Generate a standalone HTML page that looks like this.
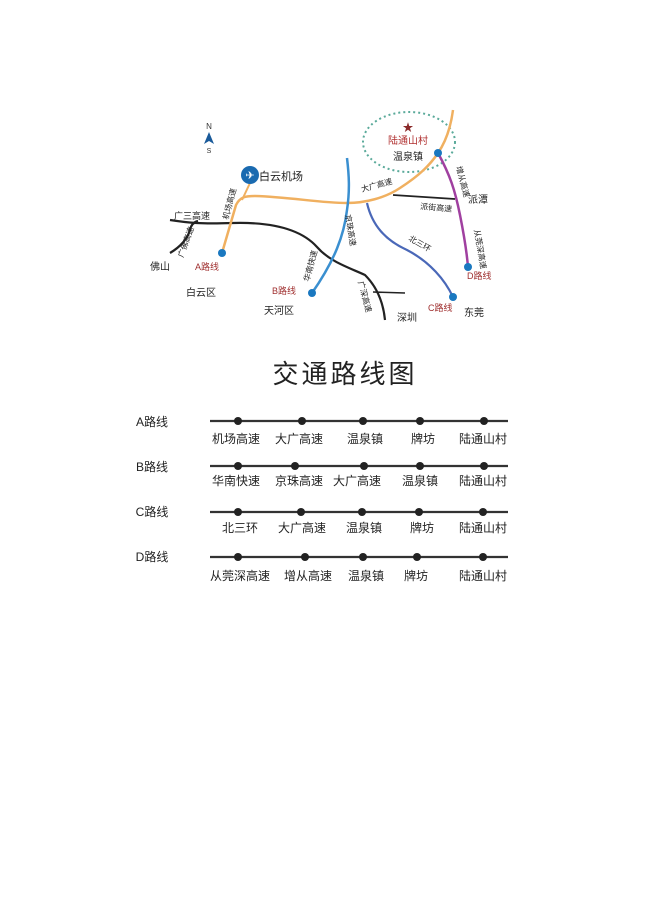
<!DOCTYPE html>
<html><head><meta charset="utf-8"><style>
html,body{margin:0;padding:0;background:#fff;}
svg{display:block;}
text{font-family:"Liberation Sans","Noto Sans CJK SC",sans-serif;}
</style></head><body>
<svg width="650" height="919" viewBox="0 0 650 919" xmlns="http://www.w3.org/2000/svg">
<rect width="650" height="919" fill="#fff"/>
<!-- compass -->
<text x="209" y="129" font-size="8" text-anchor="middle" fill="#333">N</text>
<polygon points="209,132 204,144 209,141 214,144" fill="#1a5a9a"/>
<text x="209" y="153" font-size="7" text-anchor="middle" fill="#333">S</text>
<!-- dotted circle -->
<ellipse cx="409" cy="142" rx="46" ry="30" fill="none" stroke="#5aaa9a" stroke-width="2" stroke-dasharray="2,3"/>
<text x="408" y="131" font-size="11" text-anchor="middle" fill="#8b2a2a">★</text>
<text x="408" y="144" font-size="10" text-anchor="middle" fill="#b03030">陆通山村</text>
<text x="408" y="160" font-size="10" text-anchor="middle" fill="#222">温泉镇</text>
<!-- black roads -->
<path d="M170,220 C190,223 200,224 233,223 C270,222 300,228 317,247 C330,262 350,268 365,275 C375,285 383,300 385,320" fill="none" stroke="#222" stroke-width="2.2"/>
<path d="M373,292 L405,293" fill="none" stroke="#222" stroke-width="1.6"/>
<path d="M170,253 C180,247 187,240 190,230 C191,225 194,222 198,221" fill="none" stroke="#222" stroke-width="2.2"/>
<path d="M393,195 L455,199" fill="none" stroke="#222" stroke-width="1.8"/>
<!-- orange -->
<path d="M222,253 L236,205 C240,197 245,196 255,196 C290,197 320,203 347,203 C365,203 385,198 400,188 C420,175 430,165 438,153 C447,140 451,125 453,110" fill="none" stroke="#f0b060" stroke-width="2.5"/>
<path d="M250,183 L242,200" stroke="#f0b060" stroke-width="2"/>
<!-- blue jingzhu -->
<path d="M347,158 C349,175 350,190 347,210 C344,235 335,260 312,293" fill="none" stroke="#3a8fd0" stroke-width="2.5"/>
<!-- beisanhuan -->
<path d="M367,203 C372,225 385,240 407,250 C430,262 445,280 453,297" fill="none" stroke="#4a68b8" stroke-width="2.2"/>
<!-- purple -->
<path d="M438,153 C450,175 455,190 460,215 C465,240 467,255 468,267" fill="none" stroke="#a040a0" stroke-width="2.5"/>
<!-- dots -->
<circle cx="222" cy="253" r="4" fill="#1a78c0"/>
<circle cx="312" cy="293" r="4" fill="#1a78c0"/>
<circle cx="453" cy="297" r="4" fill="#1a78c0"/>
<circle cx="468" cy="267" r="4" fill="#1a78c0"/>
<circle cx="438" cy="153" r="4" fill="#1a78c0"/>
<!-- airport -->
<circle cx="250" cy="175" r="9" fill="#1a6ab0"/>
<text x="250" y="179" font-size="11" text-anchor="middle" fill="#fff">✈</text>
<text x="259" y="180" font-size="11" fill="#222">白云机场</text>
<!-- labels -->
<g font-size="9" fill="#222">
<text x="174" y="219">广三高速</text>
<text x="150" y="270" font-size="10">佛山</text>
<text x="186" y="296" font-size="10">白云区</text>
<text x="264" y="314" font-size="10">天河区</text>
<text x="397" y="321" font-size="10">深圳</text>
<text x="464" y="316" font-size="10">东莞</text>
<text x="468" y="203" font-size="10">派潭</text>
<text x="420" y="209" font-size="8" transform="rotate(5 420 209)">派街高速</text>
<text x="362" y="192" font-size="8" transform="rotate(-15 362 192)">大广高速</text>
<text x="408" y="240" font-size="8" transform="rotate(30 408 240)">北三环</text>
<text x="228" y="220" font-size="8" transform="rotate(-75 228 220)">机场高速</text>
<text x="183" y="258" font-size="8" transform="rotate(-70 183 258)">广佛高速</text>
<text x="345" y="215" font-size="8" transform="rotate(80 345 215)">京珠高速</text>
<text x="309" y="282" font-size="8" transform="rotate(-75 309 282)">华南快速</text>
<text x="358" y="282" font-size="8" transform="rotate(75 358 282)">广深高速</text>
<text x="456" y="167" font-size="8" transform="rotate(75 456 167)">增从高速</text>
<text x="474" y="230" font-size="8" transform="rotate(80 474 230)">从莞深高速</text>
</g>
<g font-size="9" fill="#a03030">
<text x="195" y="270">A路线</text>
<text x="272" y="294">B路线</text>
<text x="428" y="311">C路线</text>
<text x="467" y="279">D路线</text>
</g>
<!-- title -->
<text x="345" y="383" font-size="26" text-anchor="middle" fill="#222" letter-spacing="3">交通路线图</text>
<!-- route list -->
<g stroke="#333" stroke-width="2.2">
<line x1="210" y1="421" x2="508" y2="421"/>
<line x1="210" y1="466" x2="508" y2="466"/>
<line x1="210" y1="512" x2="508" y2="512"/>
<line x1="210" y1="557" x2="508" y2="557"/>
</g>
<g fill="#222">
<circle cx="238" cy="421" r="4"/><circle cx="302" cy="421" r="4"/><circle cx="363" cy="421" r="4"/><circle cx="420" cy="421" r="4"/><circle cx="484" cy="421" r="4"/>
<circle cx="238" cy="466" r="4"/><circle cx="295" cy="466" r="4"/><circle cx="364" cy="466" r="4"/><circle cx="420" cy="466" r="4"/><circle cx="484" cy="466" r="4"/>
<circle cx="238" cy="512" r="4"/><circle cx="301" cy="512" r="4"/><circle cx="362" cy="512" r="4"/><circle cx="419" cy="512" r="4"/><circle cx="483" cy="512" r="4"/>
<circle cx="238" cy="557" r="4"/><circle cx="305" cy="557" r="4"/><circle cx="363" cy="557" r="4"/><circle cx="417" cy="557" r="4"/><circle cx="483" cy="557" r="4"/>
</g>
<g font-size="12" fill="#222" text-anchor="middle">
<text x="152" y="426">A路线</text><text x="152" y="471">B路线</text><text x="152" y="516">C路线</text><text x="152" y="561">D路线</text>
<text x="236" y="443">机场高速</text><text x="299" y="443">大广高速</text><text x="365" y="443">温泉镇</text><text x="423" y="443">牌坊</text><text x="483" y="443">陆通山村</text>
<text x="236" y="485">华南快速</text><text x="299" y="485">京珠高速</text><text x="357" y="485">大广高速</text><text x="420" y="485">温泉镇</text><text x="483" y="485">陆通山村</text>
<text x="240" y="532">北三环</text><text x="302" y="532">大广高速</text><text x="364" y="532">温泉镇</text><text x="422" y="532">牌坊</text><text x="483" y="532">陆通山村</text>
<text x="240" y="580">从莞深高速</text><text x="308" y="580">增从高速</text><text x="366" y="580">温泉镇</text><text x="416" y="580">牌坊</text><text x="483" y="580">陆通山村</text>
</g>
</svg>
</body></html>
